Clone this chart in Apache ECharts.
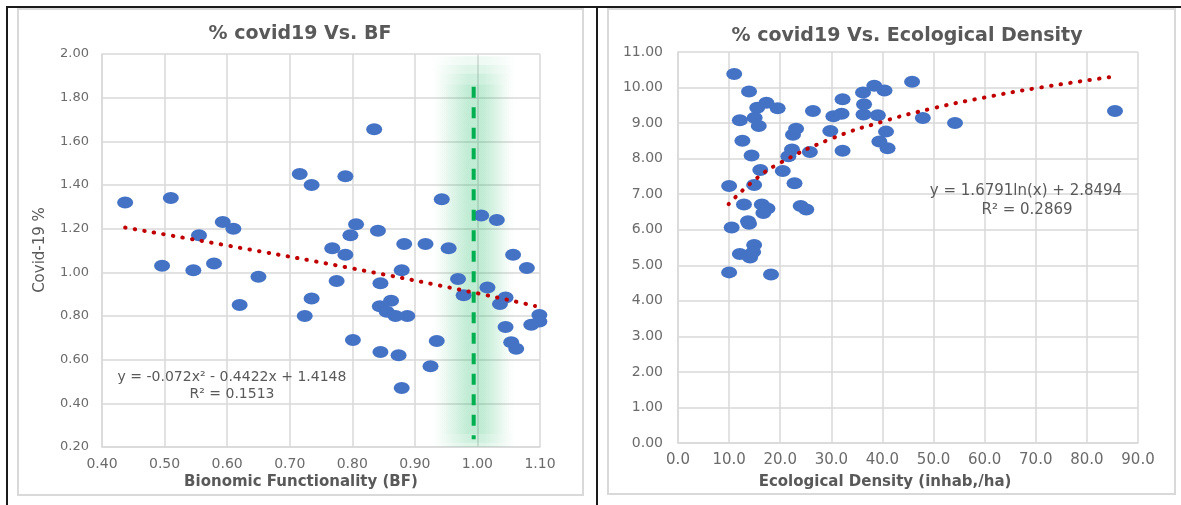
<!DOCTYPE html>
<html>
<head>
<meta charset="utf-8">
<script src="https://cdn.jsdelivr.net/npm/echarts@6/dist/echarts.min.js"></script>
<style>
html,body{margin:0;padding:0;background:#fff;}
#c{width:1181px;height:505px;}
</style>
</head>
<body>
<div id="c"></div>
<script>
// ---- Left chart: % covid19 vs Bionomic Functionality (BF)
const bfX = [0.437,0.510,0.496,0.546,0.555,0.579,0.593,0.610,0.620,0.650,0.716,0.735,0.724,0.735,0.768,0.775,0.789,0.789,0.797,0.806,0.801,0.835,0.841,0.845,0.844,0.855,0.862,0.869,0.888,0.845,0.874,0.879,0.879,0.883,0.917,0.925,0.935,0.943,0.954,0.969,0.978,1.006,1.031,1.016,1.045,1.036,1.045,1.054,1.062,1.057,1.079,1.086,1.099,1.099];
const bfY = [1.32,1.34,1.03,1.01,1.17,1.04,1.23,1.20,0.85,0.98,1.45,1.40,0.80,0.88,1.11,0.96,1.44,1.08,1.17,1.22,0.69,1.655,1.19,0.95,0.845,0.82,0.87,0.80,0.80,0.635,0.62,0.47,1.01,1.13,1.13,0.57,0.685,1.335,1.11,0.97,0.895,1.26,1.24,0.93,0.885,0.855,0.75,0.68,0.65,1.08,1.02,0.76,0.805,0.775];
const bfTrendX = [0.437,0.60,0.80,1.00,1.092];
const bfTrendY = [1.205,1.123,1.018,0.904,0.846];
const bfRefX = [0.994,0.994];
const bfRefY = [1.85,0.235];
// nested glow band (soft green highlight around BF = 1)
const bfGlowLeft  = [0.924,0.930,0.936,0.942];
const bfGlowRight = [1.064,1.058,1.052,1.046];
const bfGlowTop   = [1.99,1.95,1.91,1.86];
const bfGlowBot   = [0.2,0.2,0.22,0.26];
const bfXTicks = ['0.40','0.50','0.60','0.70','0.80','0.90','1.00','1.10'];
const bfYTicks = ['0.20','0.40','0.60','0.80','1.00','1.20','1.40','1.60','1.80','2.00'];

// ---- Right chart: % covid19 vs Ecological Density
const edX = [11.0,13.9,10.0,10.5,10.0,12.1,12.6,12.9,12.1,14.4,13.7,13.9,14.1,14.9,14.7,14.9,15.5,15.0,15.8,17.3,19.5,16.1,16.4,17.5,16.7,18.2,20.5,21.6,22.3,22.5,23.1,22.8,24.0,25.1,25.8,26.4,29.8,30.4,32.0,32.2,32.2,36.2,36.4,36.3,38.4,40.4,39.1,39.4,40.7,41.0,45.8,47.9,54.2,85.5];
const edY = [10.38,9.89,7.23,6.06,4.80,9.08,8.50,6.71,5.32,8.09,6.24,6.17,5.22,5.57,5.37,7.26,9.43,9.15,8.92,9.57,9.42,7.68,6.71,6.60,6.47,4.74,7.65,8.07,8.26,8.67,8.84,7.31,6.67,6.57,8.19,9.34,8.78,9.19,9.26,9.67,8.22,9.86,9.53,9.24,10.05,9.92,9.22,8.48,8.76,8.29,10.16,9.14,9.00,9.34];
const edTrendX = [9.9,15,20,30,40,50,60,70,84.8];
const edTrendY = [6.72,7.40,7.88,8.56,9.04,9.42,9.72,9.98,10.30];
const edXTicks = ['0.0','10.0','20.0','30.0','40.0','50.0','60.0','70.0','80.0','90.0'];
const edYTicks = ['0.00','1.00','2.00','3.00','4.00','5.00','6.00','7.00','8.00','9.00','10.00','11.00'];

const zip = (a, b) => a.map((v, i) => [v, b[i]]);
const FONT = 'DejaVu Sans';
const GRID = '#D9D9D9';
const LBL = '#6b6b6b';
const TXT = '#595959';

function xAxisCfg(idx, min, max, interval, ticks, size) {
  return {
    type: 'value', gridIndex: idx, min: min, max: max, interval: interval,
    axisLine: { show: true, lineStyle: { color: GRID, width: 1.5 } },
    axisTick: { show: false },
    splitLine: { show: true, lineStyle: { color: GRID, width: 1.5 } },
    axisLabel: { color: LBL, fontFamily: FONT, fontSize: size, margin: 10,
      formatter: (v, i) => ticks[i] }
  };
}
function yAxisCfg(idx, min, max, interval, ticks, size, margin) {
  return {
    type: 'value', gridIndex: idx, min: min, max: max, interval: interval,
    axisLine: { show: true, lineStyle: { color: GRID, width: 1.5 } },
    axisTick: { show: false },
    splitLine: { show: true, lineStyle: { color: GRID, width: 1.5 } },
    axisLabel: { color: LBL, fontFamily: FONT, fontSize: size, margin: margin,
      formatter: (v, i) => ticks[i] }
  };
}
function txt(x, y, s, size, bold, color, rot) {
  return { type: 'text', x: x, y: y, rotation: rot || 0, silent: true, z: 100,
    style: { text: s, fill: color || TXT, font: (bold ? 'bold ' : '') + size + 'px "' + FONT + '"',
      textAlign: 'center', textVerticalAlign: 'middle' } };
}

const glowFill = new echarts.graphic.LinearGradient(0, 0, 1, 0, [
  { offset: 0, color: 'rgba(0,176,80,0)' },
  { offset: 0.25, color: 'rgba(0,176,80,0.04)' },
  { offset: 0.42, color: 'rgba(0,176,80,0.068)' },
  { offset: 0.62, color: 'rgba(0,176,80,0.068)' },
  { offset: 0.78, color: 'rgba(0,176,80,0.04)' },
  { offset: 1, color: 'rgba(0,176,80,0)' }
]);
const glowAreas = bfGlowLeft.map((l, i) => [
  { coord: [l, bfGlowTop[i]] }, { coord: [bfGlowRight[i], bfGlowBot[i]] }
]);

const chart = echarts.init(document.getElementById('c'), null, { renderer: 'canvas' });
chart.setOption({
  backgroundColor: '#ffffff',
  animation: false,
  grid: [
    { left: 102, top: 54, width: 438, height: 393 },
    { left: 678, top: 52, width: 460, height: 391 }
  ],
  xAxis: [
    xAxisCfg(0, 0.4, 1.1, 0.1, bfXTicks, 14),
    xAxisCfg(1, 0, 90, 10, edXTicks, 15)
  ],
  yAxis: [
    yAxisCfg(0, 0.2, 2.0, 0.2, bfYTicks, 13, 13),
    yAxisCfg(1, 0, 11, 1, edYTicks, 14, 15)
  ],
  series: [
    { type: 'scatter', xAxisIndex: 0, yAxisIndex: 0, z: 2, silent: true,
      symbol: 'circle', symbolSize: [16, 12],
      itemStyle: { color: '#4472C4', opacity: 1 },
      data: zip(bfX, bfY) },
    { type: 'line', xAxisIndex: 0, yAxisIndex: 0, z: 3, silent: true,
      symbol: 'none', smooth: true,
      lineStyle: { color: '#C00000', width: 4, type: [0.5, 9.2], cap: 'round' },
      data: zip(bfTrendX, bfTrendY) },
    { type: 'scatter', xAxisIndex: 0, yAxisIndex: 0, z: 4, silent: true, data: [],
      markArea: { silent: true,
        itemStyle: { color: glowFill, borderWidth: 0 },
        data: glowAreas } },
    { type: 'line', xAxisIndex: 0, yAxisIndex: 0, z: 6, silent: true, symbol: 'none',
      lineStyle: { color: '#00B050', width: 4, type: [11, 9.5], cap: 'butt' },
      data: zip(bfRefX, bfRefY) },
    { type: 'scatter', xAxisIndex: 1, yAxisIndex: 1, z: 2, silent: true,
      symbol: 'circle', symbolSize: [16, 12],
      itemStyle: { color: '#4472C4', opacity: 1 },
      data: zip(edX, edY) },
    { type: 'line', xAxisIndex: 1, yAxisIndex: 1, z: 3, silent: true,
      symbol: 'none', smooth: true,
      lineStyle: { color: '#C00000', width: 4, type: [0.5, 9.2], cap: 'round' },
      data: zip(edTrendX, edTrendY) }
  ],
  graphic: [
    { type: 'rect', silent: true, z: -1, shape: { x: 18, y: 9, width: 565, height: 486 },
      style: { fill: 'none', stroke: GRID, lineWidth: 2 } },
    { type: 'rect', silent: true, z: -1, shape: { x: 608, y: 9, width: 567, height: 485 },
      style: { fill: 'none', stroke: GRID, lineWidth: 2 } },
    { type: 'line', silent: true, shape: { x1: 7, y1: 7, x2: 1181, y2: 7 }, style: { stroke: '#1a1a1a', lineWidth: 2 } },
    { type: 'line', silent: true, shape: { x1: 7, y1: 6, x2: 7, y2: 505 }, style: { stroke: '#1a1a1a', lineWidth: 2 } },
    { type: 'line', silent: true, shape: { x1: 597, y1: 6, x2: 597, y2: 505 }, style: { stroke: '#1a1a1a', lineWidth: 2 } },
    txt(300, 34, '% covid19 Vs. BF', 19, true),
    txt(907, 36, '% covid19 Vs. Ecological Density', 19, true),
    txt(301, 482, 'Bionomic Functionality (BF)', 15, true),
    txt(885, 482, 'Ecological Density (inhab,/ha)', 15, true),
    txt(40, 250, 'Covid-19 %', 15, false, TXT, Math.PI / 2),
    txt(232, 377, 'y = -0.072x² - 0.4422x + 1.4148', 14, false),
    txt(232, 394, 'R² = 0.1513', 14, false),
    txt(1026, 191, 'y = 1.6791ln(x) + 2.8494', 15, false),
    txt(1027, 210, 'R² = 0.2869', 15, false)
  ]
});
</script>
</body>
</html>
